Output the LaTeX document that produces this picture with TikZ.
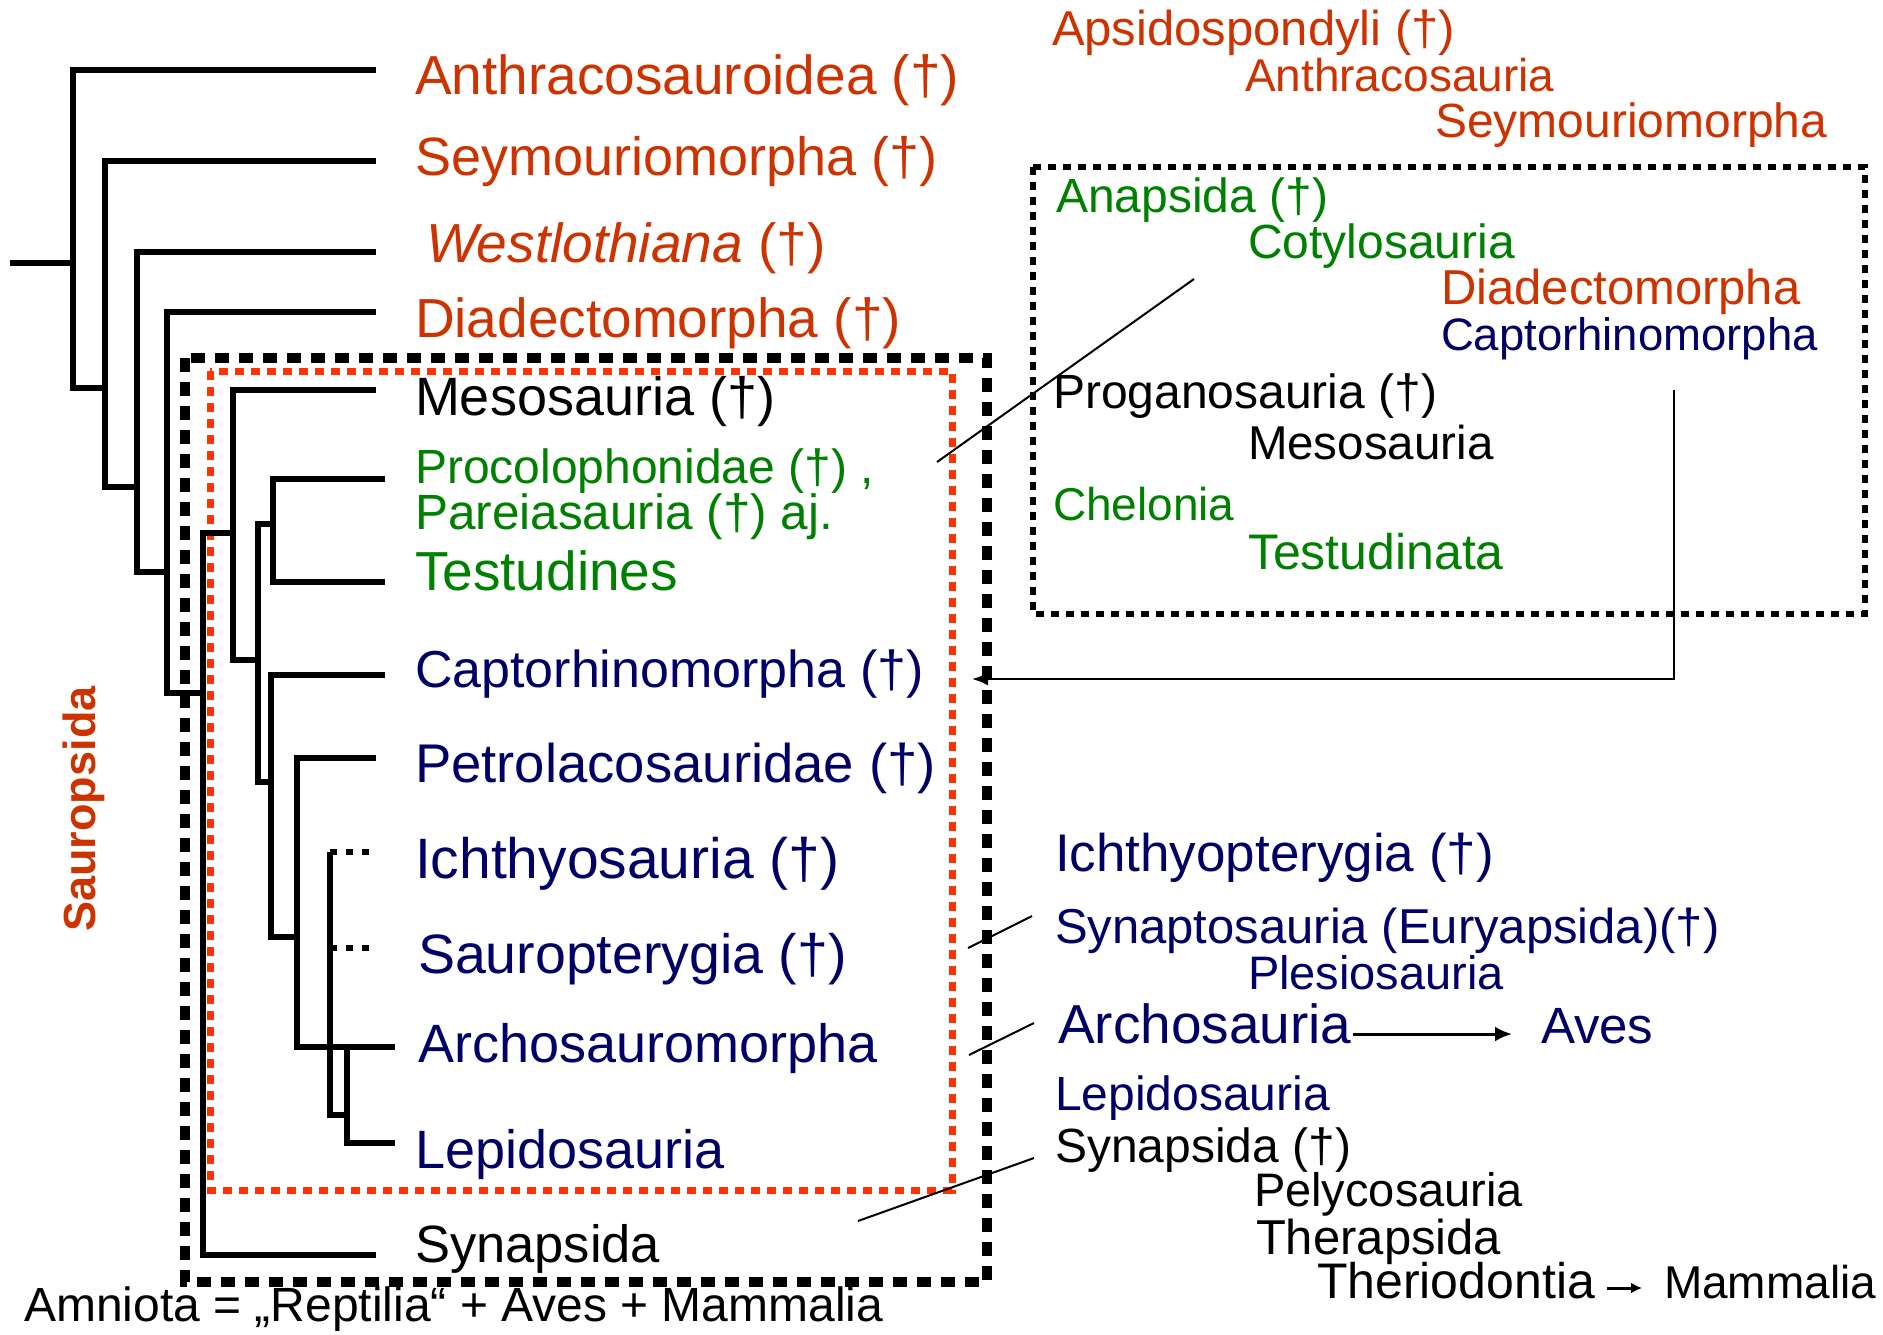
\documentclass[tikz,border=0pt]{standalone}
\usepackage{fontspec}
\setmainfont{Liberation Sans}
\usetikzlibrary{arrows.meta}
\definecolor{rust}{HTML}{CC3300}
\definecolor{leafgreen}{HTML}{008000}
\definecolor{navyblue}{HTML}{000066}
\definecolor{boxred}{HTML}{FF3300}
\newcommand{\fsz}[1]{\fontsize{#1}{#1}\selectfont}
\begin{document}
\begin{tikzpicture}[x=1pt,y=-1pt,
  lab/.style={anchor=base west, inner sep=0pt, outer sep=0pt},
  branch/.style={line width=5.5pt, line join=miter, line cap=butt},
  dotbranch/.style={line width=5.5pt, dash pattern=on 7pt off 9pt},
  bigbox/.style={line width=10pt, dash pattern=on 14pt off 10pt},
  redbox/.style={draw=boxred, line width=7pt, dash pattern=on 9pt off 7pt},
  thinbox/.style={line width=6pt, dash pattern=on 8pt off 7pt},
  thin/.style={line width=2pt},
  tiparrow/.style={line width=2pt, -{Latex[length=16pt,width=13pt]}}
]
\useasboundingbox (0,0) rectangle (1883,1334);
\fill[white] (0,0) rectangle (1883,1334);

% ---------- boxes ----------
\coordinate (bbTL) at (185,358); \coordinate (bbBR) at (987,1282);
\draw[bigbox] (bbTL) rectangle (bbBR);
\coordinate (rbTL) at (210,371); \coordinate (rbBR) at (952,1190);
\draw[redbox] (rbTL) rectangle (rbBR);
\coordinate (tbTL) at (1033,167); \coordinate (tbBR) at (1865,614);
\draw[thinbox] (tbTL) rectangle (tbBR);

% ---------- tree coordinates ----------
\coordinate (root) at (10,263);
\coordinate (n1r) at (73,263); \coordinate (n1t) at (73,70); \coordinate (n1b) at (73,388);
\coordinate (eAnth) at (376,70);
\coordinate (n2a) at (105,388); \coordinate (n2t) at (105,161); \coordinate (n2b) at (105,487);
\coordinate (eSey) at (376,161);
\coordinate (n3a) at (137,487); \coordinate (n3t) at (137,252); \coordinate (n3b) at (137,572);
\coordinate (eWes) at (376,252);
\coordinate (n4a) at (167,572); \coordinate (n4t) at (167,312); \coordinate (n4b) at (167,693);
\coordinate (eDia) at (376,312);
\coordinate (n5a) at (203,693); \coordinate (n5t) at (203,533); \coordinate (n5b) at (203,1255);
\coordinate (eSyn) at (376,1255);
\coordinate (n6a) at (233,533); \coordinate (n6t) at (233,390); \coordinate (n6b) at (233,660);
\coordinate (eMes) at (376,390);
\coordinate (n7a) at (258,660); \coordinate (n7t) at (258,524); \coordinate (n7b) at (258,782);
\coordinate (n8a) at (273,524); \coordinate (n8t) at (273,479); \coordinate (n8b) at (273,582);
\coordinate (eProc) at (385,479); \coordinate (eTest) at (385,582);
\coordinate (n9a) at (271,782); \coordinate (n9t) at (271,675); \coordinate (n9b) at (271,937);
\coordinate (eCap) at (385,675);
\coordinate (n10a) at (297,937); \coordinate (n10t) at (297,758); \coordinate (n10b) at (297,1047);
\coordinate (ePet) at (376,758);
\coordinate (n11t) at (330,852); \coordinate (n11s) at (330,948); \coordinate (n11b) at (330,1115);
\coordinate (eIch) at (370,852); \coordinate (eSau) at (370,948);
\coordinate (n12a) at (347,1115); \coordinate (n12t) at (347,1047); \coordinate (n12b) at (347,1143);
\coordinate (eArc) at (395,1047); \coordinate (eLep) at (395,1143);

% ---------- tree ----------
\draw[branch] (root) -- (n1r);
\draw[branch] (eAnth) -- (n1t) -- (n1b) -- (n2a);
\draw[branch] (eSey) -- (n2t) -- (n2b) -- (n3a);
\draw[branch] (eWes) -- (n3t) -- (n3b) -- (n4a);
\draw[branch] (eDia) -- (n4t) -- (n4b) -- (n5a);
\draw[branch] (n6a) -- (n5t) -- (n5b) -- (eSyn);
\draw[branch] (eMes) -- (n6t) -- (n6b) -- (n7a);
\draw[branch] (n8a) -- (n7t) -- (n7b) -- (n9a);
\draw[branch] (eProc) -- (n8t) -- (n8b) -- (eTest);
\draw[branch] (eCap) -- (n9t) -- (n9b) -- (n10a);
\draw[branch] (ePet) -- (n10t) -- (n10b) -- (n12t);
\draw[branch] (n11t) -- (n11b) -- (n12a);
\draw[dotbranch] (n11t) -- (eIch);
\draw[dotbranch] (n11s) -- (eSau);
\draw[branch] (eArc) -- (n12t) -- (n12b) -- (eLep);

% ---------- left labels ----------
\node[lab, text=rust, font=\fsz{55}] (lAnth) at (415,94) {Anthracosauroidea (†)};
\node[lab, text=rust, font=\fsz{54}] (lSey) at (415,175) {Seymouriomorpha (†)};
\node[lab, text=rust, font=\fsz{55}] (lWes) at (426,262) {\itshape Westlothiana\upshape\ (†)};
\node[lab, text=rust, font=\fsz{55}] (lDia) at (415,337) {Diadectomorpha (†)};
\node[lab, text=black, font=\fsz{54}] (lMes) at (415,415) {Mesosauria (†)};
\node[lab, text=leafgreen, font=\fsz{48}] (lProc) at (415,483) {Procolophonidae (†) ,};
\node[lab, text=leafgreen, font=\fsz{49.5}] (lPar) at (415,529) {Pareiasauria (†) aj.};
\node[lab, text=leafgreen, font=\fsz{55}] (lTest) at (415,590) {Testudines};
\node[lab, text=navyblue, font=\fsz{52}] (lCap) at (415,687) {Captorhinomorpha (†)};
\node[lab, text=navyblue, font=\fsz{54.5}] (lPet) at (415,782) {Petrolacosauridae (†)};
\node[lab, text=navyblue, font=\fsz{57}] (lIch) at (415,878) {Ichthyosauria (†)};
\node[lab, text=navyblue, font=\fsz{55.5}] (lSau) at (418,973) {Sauropterygia (†)};
\node[lab, text=navyblue, font=\fsz{54}] (lArc) at (418,1062) {Archosauromorpha};
\node[lab, text=navyblue, font=\fsz{54}] (lLep) at (415,1168) {Lepidosauria};
\node[lab, text=black, font=\fsz{52.5}] (lSyn) at (415,1262) {Synapsida};

\node[anchor=center, rotate=90, inner sep=0pt, text=rust, font=\fsz{45}\bfseries] (sauro) at (84,809) {Sauropsida};
\node[lab, text=black, font=\fsz{48}] (amnio) at (24,1321) {Amniota = „Reptilia“ + Aves + Mammalia};

% ---------- right labels ----------
\node[lab, text=rust, font=\fsz{49}] (rAps) at (1052,45) {Apsidospondyli (†)};
\node[lab, text=rust, font=\fsz{46}] (rAnth) at (1245,91) {Anthracosauria};
\node[lab, text=rust, font=\fsz{48}] (rSey) at (1435,137) {Seymouriomorpha};
\node[lab, text=leafgreen, font=\fsz{48}] (rAna) at (1056,212) {Anapsida (†)};
\node[lab, text=leafgreen, font=\fsz{48}] (rCot) at (1248,258) {Cotylosauria};
\node[lab, text=rust, font=\fsz{49}] (rDia) at (1441,304) {Diadectomorpha};
\node[lab, text=navyblue, font=\fsz{45.5}] (rCap) at (1441,350) {Captorhinomorpha};
\node[lab, text=black, font=\fsz{48}] (rPro) at (1053,408) {Proganosauria (†)};
\node[lab, text=black, font=\fsz{47.5}] (rMes) at (1248,459) {Mesosauria};
\node[lab, text=leafgreen, font=\fsz{46}] (rChe) at (1053,520) {Chelonia};
\node[lab, text=leafgreen, font=\fsz{50}] (rTes) at (1248,569) {Testudinata};

\node[lab, text=navyblue, font=\fsz{53}] (rIch) at (1055,871) {Ichthyopterygia (†)};
\node[lab, text=navyblue, font=\fsz{49}] (rSyt) at (1055,943) {Synaptosauria (Euryapsida)(†)};
\node[lab, text=navyblue, font=\fsz{47}] (rPle) at (1248,989) {Plesiosauria};
\node[lab, text=navyblue, font=\fsz{55}] (rArc) at (1058,1043) {Archosauria};
\node[lab, text=navyblue, font=\fsz{51}] (rAve) at (1541,1043) {Aves};
\node[lab, text=navyblue, font=\fsz{48}] (rLep) at (1055,1110) {Lepidosauria};
\node[lab, text=black, font=\fsz{48}] (rSyn) at (1055,1162) {Synapsida (†)};
\node[lab, text=black, font=\fsz{47}] (rPel) at (1254,1206) {Pelycosauria};
\node[lab, text=black, font=\fsz{49}] (rThe) at (1256,1254) {Therapsida};
\node[lab, text=black, font=\fsz{50}] (rThd) at (1317,1298) {Theriodontia};
\node[lab, text=black, font=\fsz{46}] (rMam) at (1664,1298) {Mammalia};

% ---------- connectors ----------
\coordinate (dA1) at (1194,279); \coordinate (dA2) at (937,462);
\draw[thin] (dA1) -- (dA2);
\coordinate (dB1) at (1032,916); \coordinate (dB2) at (968,948);
\draw[thin] (dB1) -- (dB2);
\coordinate (dC1) at (1034,1023); \coordinate (dC2) at (969,1055);
\draw[thin] (dC1) -- (dC2);
\coordinate (dD1) at (1034,1158); \coordinate (dD2) at (858,1221);
\draw[thin] (dD1) -- (dD2);

\coordinate (capStart) at (1674,390); \coordinate (capTip) at (972,679);
\draw[tiparrow] (capStart) |- (capTip);

\coordinate (avS) at (1353,1034); \coordinate (avE) at (1512,1034);
\draw[line width=3pt, -{Latex[length=17pt,width=15pt]}] (avS) -- (avE);
\coordinate (maS) at (1607,1288); \coordinate (maE) at (1642,1288);
\draw[line width=3pt, -{Latex[length=11pt,width=11pt]}] (maS) -- (maE);
\end{tikzpicture}
\end{document}
